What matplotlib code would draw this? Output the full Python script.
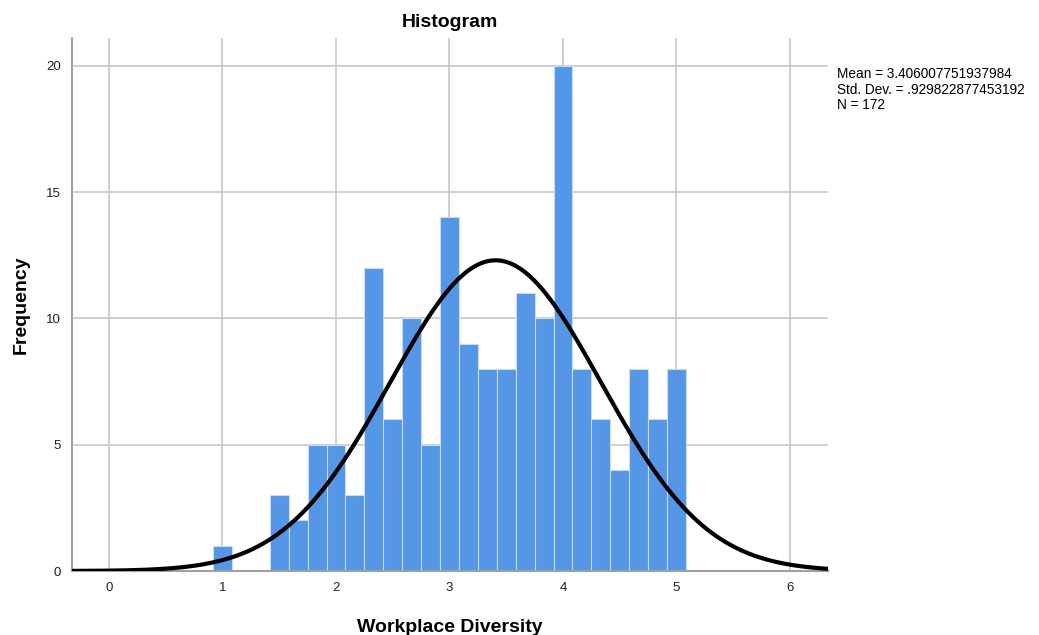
import numpy as np
import matplotlib
matplotlib.use("Agg")
import matplotlib.pyplot as plt

plt.rcParams['font.family'] = ['Liberation Sans', 'DejaVu Sans']

# Histogram bins (width 1/6), centres and counts
bin_width = 1.0 / 6.0
bin_centers = [1.0] + [1.5 + i / 6.0 for i in range(22)]
counts = [1, 3, 2, 5, 5, 3, 12, 6, 10, 5, 14, 9, 8, 8, 11, 10, 20, 8, 6, 4, 8, 6, 8]

mean = 3.406007751937984
std = 0.929822877453192
n = 172

x_ticks = [0, 1, 2, 3, 4, 5, 6]
y_ticks = [0, 5, 10, 15, 20]

fig = plt.figure(figsize=(10.39, 6.35), dpi=100)
ax = fig.add_axes([72 / 1039, 1 - 571 / 635, (828 - 72) / 1039, (571 - 38) / 635])

ax.bar(bin_centers, counts, width=bin_width, color='#5596E6',
       edgecolor='#c8dcf5', linewidth=0.8, zorder=2)

xs = np.linspace(-0.33, 6.34, 600)
ys = n * bin_width / (std * np.sqrt(2 * np.pi)) * np.exp(-0.5 * ((xs - mean) / std) ** 2)
ax.plot(xs, ys, color='black', linewidth=3, zorder=3, solid_capstyle='butt')

ax.set_xlim(-0.326, 6.335)
ax.set_ylim(0, 21.1)
ax.set_xticks(x_ticks)
ax.set_yticks(y_ticks)
ax.grid(True, color='#c8c8c8', linewidth=1.2, zorder=0)
ax.set_axisbelow(True)
ax.tick_params(length=0, labelsize=9.5, colors='#222222', pad=8)

for s in ['top', 'right']:
    ax.spines[s].set_visible(False)
for s in ['left', 'bottom']:
    ax.spines[s].set_color('#a0a0a0')
    ax.spines[s].set_linewidth(1.5)

ax.set_xlabel('Workplace Diversity', fontsize=14, fontweight='bold', labelpad=18)
ax.set_ylabel('Frequency', fontsize=14, fontweight='bold', labelpad=12)
ax.set_title('Histogram', fontsize=14, fontweight='bold', pad=8)

fig.text(837 / 1039, 1 - 67 / 635,
         'Mean = 3.406007751937984\nStd. Dev. = .929822877453192\nN = 172',
         fontsize=9.8, va='top', ha='left', linespacing=1.15)

fig.savefig('out.png', dpi=100)
